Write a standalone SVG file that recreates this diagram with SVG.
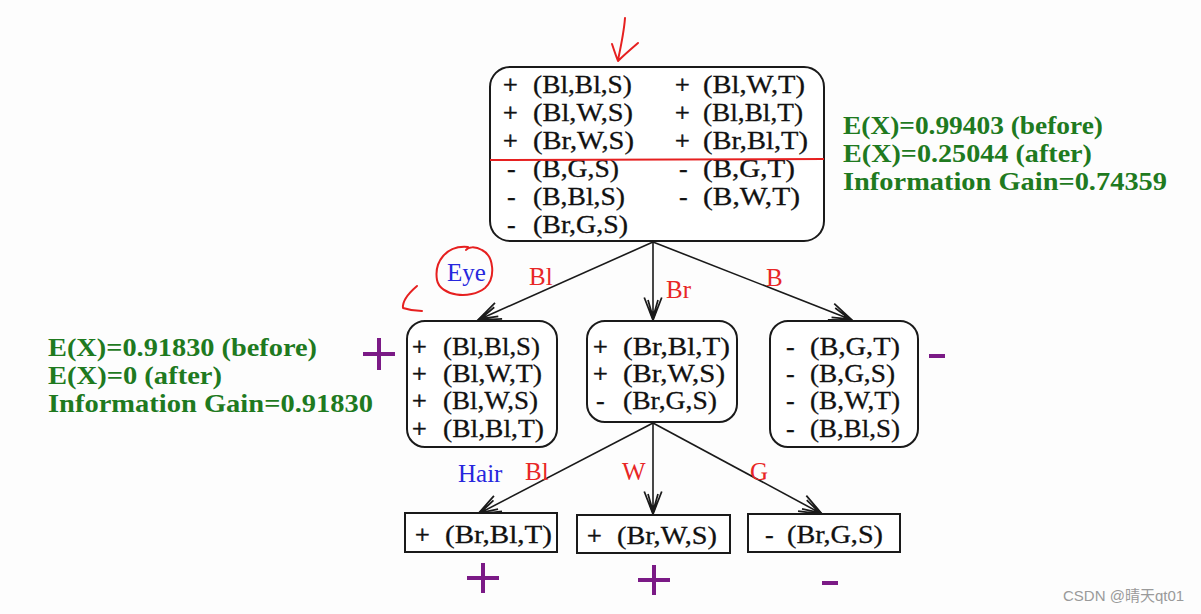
<svg xmlns="http://www.w3.org/2000/svg" width="1201" height="614" viewBox="0 0 1201 614">
<style>
.t{font-family:"Liberation Serif","DejaVu Serif",serif;font-size:26px;fill:#111;stroke:#111;stroke-width:0.3}
.p{font-family:"Liberation Serif","DejaVu Serif",serif;font-size:26px;fill:#111;stroke:#111;stroke-width:0.6}
.g{font-family:"Liberation Serif","DejaVu Serif",serif;font-size:26px;font-weight:bold;fill:#1f7a1f}
.lr{font-family:"Liberation Serif","DejaVu Serif",serif;font-size:25px;fill:#e82626}
.lb{font-family:"Liberation Serif","DejaVu Serif",serif;font-size:25px;fill:#2727dd}
.box{fill:#fff;stroke:#1a1a1a;stroke-width:2}
.edge{stroke:#1a1a1a;stroke-width:1.6;fill:none}
.pur{stroke:#7b1a86;stroke-width:4;fill:none}
.ink{stroke:#e62020;stroke-width:2;fill:none;stroke-linecap:round;stroke-linejoin:round}
.wm{font-family:"Liberation Sans","Noto Sans CJK SC",sans-serif;font-size:15px;fill:#9a9a9a}
</style>
<defs>
<marker id="arr" markerUnits="userSpaceOnUse" markerWidth="30" markerHeight="30" refX="0" refY="0" viewBox="-22 -12 24 24" orient="auto">
<path d="M-18,-7 L0,0 L-18,7 M-16,-4 L-2,0 L-16,4" fill="none" stroke="#1a1a1a" stroke-width="1.4"/>
<path d="M1,0 L-7,-3 L-7,3 z" fill="#1a1a1a"/>
</marker>
</defs>
<rect width="1201" height="614" fill="#fdfdfd"/>

<g id="connectors">
<line class="edge" x1="653" y1="242" x2="478" y2="320" marker-end="url(#arr)"/>
<line class="edge" x1="653" y1="242" x2="653" y2="320" marker-end="url(#arr)"/>
<line class="edge" x1="653" y1="242" x2="852" y2="320" marker-end="url(#arr)"/>
<line class="edge" x1="653" y1="423" x2="478" y2="514" marker-end="url(#arr)"/>
<line class="edge" x1="653" y1="423" x2="653" y2="514" marker-end="url(#arr)"/>
<line class="edge" x1="653" y1="423" x2="822" y2="514" marker-end="url(#arr)"/>
<text class="lr" x="529" y="285">Bl</text>
<text class="lr" x="666" y="298">Br</text>
<text class="lr" x="766" y="286">B</text>
<text class="lb" x="447" y="281">Eye</text>
<text class="lb" x="458" y="482">Hair</text>
<text class="lr" x="525" y="480">Bl</text>
<text class="lr" x="622" y="480">W</text>
<text class="lr" x="750" y="480">G</text>
</g>

<g id="root">
<rect class="box" x="490" y="67" width="334" height="174" rx="20"/>
<g class="t">
<text class="p" x="503" y="93">+</text><text x="533" y="93" textLength="99" lengthAdjust="spacingAndGlyphs">(Bl,Bl,S)</text>
<text class="p" x="503" y="121">+</text><text x="533" y="121" textLength="100" lengthAdjust="spacingAndGlyphs">(Bl,W,S)</text>
<text class="p" x="503" y="149">+</text><text x="533" y="149" textLength="101" lengthAdjust="spacingAndGlyphs">(Br,W,S)</text>
<text x="507" y="177">-</text><text x="533" y="177" textLength="86" lengthAdjust="spacingAndGlyphs">(B,G,S)</text>
<text x="507" y="205">-</text><text x="533" y="205" textLength="92" lengthAdjust="spacingAndGlyphs">(B,Bl,S)</text>
<text x="507" y="233">-</text><text x="533" y="233" textLength="95" lengthAdjust="spacingAndGlyphs">(Br,G,S)</text>
<text class="p" x="675" y="93">+</text><text x="703" y="93" textLength="102" lengthAdjust="spacingAndGlyphs">(Bl,W,T)</text>
<text class="p" x="675" y="121">+</text><text x="703" y="121" textLength="100" lengthAdjust="spacingAndGlyphs">(Bl,Bl,T)</text>
<text class="p" x="675" y="149">+</text><text x="703" y="149" textLength="105" lengthAdjust="spacingAndGlyphs">(Br,Bl,T)</text>
<text x="679" y="177">-</text><text x="703" y="177" textLength="92" lengthAdjust="spacingAndGlyphs">(B,G,T)</text>
<text x="679" y="205">-</text><text x="703" y="205" textLength="97" lengthAdjust="spacingAndGlyphs">(B,W,T)</text>
</g>
<line x1="490" y1="160" x2="824" y2="159" stroke="#e62020" stroke-width="2"/>
</g>

<g id="root-info" class="g">
<text x="843" y="134" textLength="260" lengthAdjust="spacingAndGlyphs">E(X)=0.99403 (before)</text>
<text x="843" y="162" textLength="249" lengthAdjust="spacingAndGlyphs">E(X)=0.25044 (after)</text>
<text x="843" y="190" textLength="324" lengthAdjust="spacingAndGlyphs">Information Gain=0.74359</text>
</g>

<g id="node-bl">
<rect class="box" x="407" y="321" width="150" height="126" rx="18"/>
<g class="t">
<text class="p" x="412" y="355">+</text><text x="443" y="355" textLength="97" lengthAdjust="spacingAndGlyphs">(Bl,Bl,S)</text>
<text class="p" x="412" y="382">+</text><text x="443" y="382" textLength="99" lengthAdjust="spacingAndGlyphs">(Bl,W,T)</text>
<text class="p" x="412" y="409">+</text><text x="443" y="409" textLength="95" lengthAdjust="spacingAndGlyphs">(Bl,W,S)</text>
<text class="p" x="412" y="437">+</text><text x="443" y="437" textLength="101" lengthAdjust="spacingAndGlyphs">(Bl,Bl,T)</text>
</g>
</g>

<g id="node-bl-info" class="g">
<text x="48" y="356" textLength="269" lengthAdjust="spacingAndGlyphs">E(X)=0.91830 (before)</text>
<text x="48" y="384" textLength="174" lengthAdjust="spacingAndGlyphs">E(X)=0 (after)</text>
<text x="48" y="412" textLength="325" lengthAdjust="spacingAndGlyphs">Information Gain=0.91830</text>
</g>

<g id="node-br">
<rect class="box" x="587" y="321" width="150" height="101" rx="18"/>
<g class="t">
<text class="p" x="593" y="355">+</text><text x="623" y="355" textLength="107" lengthAdjust="spacingAndGlyphs">(Br,Bl,T)</text>
<text class="p" x="593" y="382">+</text><text x="623" y="382" textLength="102" lengthAdjust="spacingAndGlyphs">(Br,W,S)</text>
<text x="596" y="409">-</text><text x="623" y="409" textLength="94" lengthAdjust="spacingAndGlyphs">(Br,G,S)</text>
</g>
</g>

<g id="node-b">
<rect class="box" x="770" y="321" width="148" height="126" rx="18"/>
<g class="t">
<text x="786" y="355">-</text><text x="810" y="355" textLength="90" lengthAdjust="spacingAndGlyphs">(B,G,T)</text>
<text x="786" y="382">-</text><text x="810" y="382" textLength="85" lengthAdjust="spacingAndGlyphs">(B,G,S)</text>
<text x="786" y="409">-</text><text x="810" y="409" textLength="90" lengthAdjust="spacingAndGlyphs">(B,W,T)</text>
<text x="786" y="437">-</text><text x="810" y="437" textLength="90" lengthAdjust="spacingAndGlyphs">(B,Bl,S)</text>
</g>
</g>

<g id="leaf-bl">
<rect class="box" x="405" y="513" width="152" height="39"/>
<text class="p" x="415" y="543">+</text><text class="t" x="445" y="543" textLength="107" lengthAdjust="spacingAndGlyphs">(Br,Bl,T)</text>
</g>
<g id="leaf-w">
<rect class="box" x="577" y="515" width="153" height="38"/>
<text class="p" x="587" y="544">+</text><text class="t" x="617" y="544" textLength="100" lengthAdjust="spacingAndGlyphs">(Br,W,S)</text>
</g>
<g id="leaf-g">
<rect class="box" x="748" y="514" width="152" height="38"/>
<text class="t" x="765" y="543">-</text><text class="t" x="787" y="543" textLength="96" lengthAdjust="spacingAndGlyphs">(Br,G,S)</text>
</g>

<g id="class-marks">
<path class="pur" d="M363,354 H395 M379,338 V370"/>
<path class="pur" d="M929,356 H945"/>
<path class="pur" d="M467,578 H499 M483,563 V593"/>
<path class="pur" d="M638,580 H670 M654,565 V595"/>
<path class="pur" d="M822,583 H838"/>
</g>

<g id="annotations">
<path class="ink" d="M625,18 C624,32 621,46 618,60 M612,44 C614,50 616,56 618,61 C624,55 631,49 638,43"/>
<path class="ink" d="M468,247 C446,245 434,262 437,280 C440,296 470,300 485,288 C496,278 494,256 482,250 C475,246 468,247 466,250"/>
<path class="ink" d="M417,286 C410,292 402,300 403,308 C409,310 416,311 422,311"/>
</g>

<text class="wm" x="1063" y="601">CSDN @晴天qt01</text>
</svg>
